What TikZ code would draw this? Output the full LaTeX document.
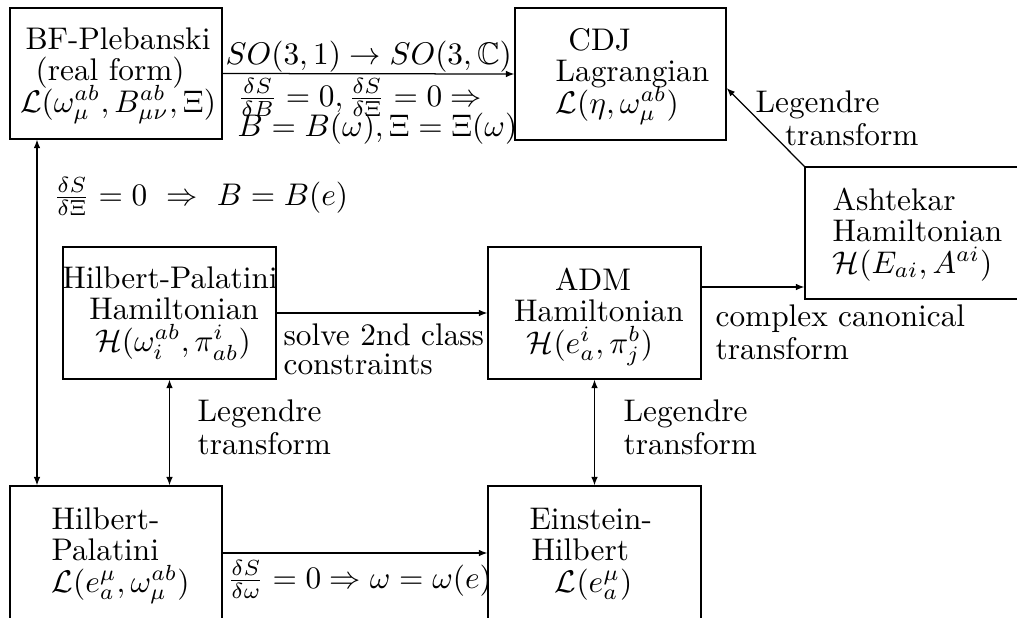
\documentclass[tikz,border=0pt]{standalone}
\usepackage{amsmath,amssymb}
\usetikzlibrary{arrows.meta,fit,calc}
\newcommand\mycstack[2][10.1pt]{\vtop{\baselineskip=#1\lineskiplimit=-100pt\lineskip=0pt\halign{\hfil##\hfil\cr#2\crcr}}}
\newcommand\mylstack[2][10.1pt]{\vtop{\baselineskip=#1\lineskiplimit=-100pt\lineskip=0pt\halign{##\hfil\cr#2\crcr}}}
\begin{document}
\begin{tikzpicture}[x=0.3195pt,y=-0.3195pt,
  box/.style={draw,inner sep=0pt,line width=0.4pt},
  txt/.style={inner sep=0pt,anchor=base west},
  ctxt/.style={inner sep=0pt,anchor=base},
  conn/.style={line width=0.4pt,-{Latex[length=2.7pt,width=2.1pt]}},
  dconn/.style={line width=0.4pt,{Latex[length=2.7pt,width=2.1pt]}-{Latex[length=2.7pt,width=2.1pt]}}]
\useasboundingbox (0,0) rectangle (1017,617);
\clip (0,0) rectangle (1017,617);
% boxes
\node[box,fit={(10,8) (222,139)}] (bf) {};
\node[box,fit={(515,8) (726,140)}] (cdj) {};
\node[box,fit={(805,167) (1040,299)}] (ash) {};
\node[box,fit={(63,247) (276,379)}] (hph) {};
\node[box,fit={(488,247) (701,379)}] (adm) {};
\node[box,fit={(10,486) (222,660)}] (hpl) {};
\node[box,fit={(488,486) (701,660)}] (eh) {};
% box texts
\node[ctxt] (bfT) at (118,49) {\mycstack{BF-Plebanski\cr (real form)\kern5pt\cr $\mathcal{L}(\omega^{ab}_\mu, B^{ab}_{\mu\nu}, \Xi)$}};
\node[txt] (cdjT) at (555,50) {\mylstack{\kern4.1pt CDJ\cr Lagrangian\cr $\mathcal{L}(\eta, \omega^{ab}_\mu)$}};
\node[txt] (ashT) at (832,210) {\mylstack{Ashtekar\cr Hamiltonian\cr $\mathcal{H}(E_{ai}, A^{ai})$}};
\node[ctxt] (hphT) at (170,288) {\mycstack{Hilbert-Palatini\cr \kern2.6pt Hamiltonian\cr \kern1.9pt$\mathcal{H}(\omega^{ab}_i, \pi^i_{ab})$}};
\node[ctxt] (admT) at (599,290) {\mycstack{ADM\kern3.8pt\cr Hamiltonian\cr $\mathcal{H}(e^i_a, \pi^b_j)$\kern5.8pt}};
\node[txt] (hplT) at (51,529) {\mylstack{Hilbert-\cr Palatini\cr $\mathcal{L}(e^\mu_a, \omega^{ab}_\mu)$}};
\node[txt] (ehT) at (529,529) {\mylstack{Einstein-\cr \kern0.6pt Hilbert\cr \kern8.1pt$\mathcal{L}(e^\mu_a)$}};
% helper coordinates
\coordinate (lx) at (37,0);
\coordinate (cy) at (0,88);
\coordinate (ay) at (0,287);
\coordinate (by) at (0,553);
% connectors
\draw[conn] (bf.east) -- (cdj.west);
\draw[conn] (ash.north west) -- (cdj.east |- cy);
\draw[conn] (hph.east) -- (adm.west);
\draw[conn] (adm.east |- ay) -- (ash.west |- ay);
\draw[conn] (hpl.east |- by) -- (eh.west |- by);
\draw[dconn] (lx |- bf.south) -- (lx |- hpl.north);
\draw[dconn] (hph.south) -- (hph.south |- hpl.north);
\draw[dconn] (adm.south) -- (adm.south |- eh.north);
% connector labels
\node[txt] (l1) at (225,64) {$SO(3,1)\rightarrow SO(3,\mathbb{C})$};
\node[txt] (l2) at (237,106) {\mylstack[9.6pt]{$\frac{\delta S}{\delta B}=0, \frac{\delta S}{\delta \Xi}=0 \Rightarrow$\cr $B=B(\omega), \Xi=\Xi(\omega)$}};
\node[txt] (l4) at (53,205) {$\frac{\delta S}{\delta \Xi}=0\ \Rightarrow\ B=B(e)$};
\node[txt] (l5) at (755,112) {\mylstack[10.8pt]{Legendre\cr \kern9.4pt transform}};
\node[txt] (l7) at (283,345) {\mylstack[9.3pt]{solve 2nd class\cr constraints}};
\node[txt] (l9) at (715,326) {\mylstack[10.6pt]{complex canonical\cr transform}};
\node[txt] (l11) at (197,421) {\mylstack[10.8pt]{Legendre\cr transform}};
\node[txt] (l13) at (623,421) {\mylstack[10.8pt]{Legendre\cr transform}};
\node[txt] (l15) at (227,588) {$\frac{\delta S}{\delta \omega}=0\Rightarrow\omega=\omega(e)$};
\end{tikzpicture}
\end{document}
